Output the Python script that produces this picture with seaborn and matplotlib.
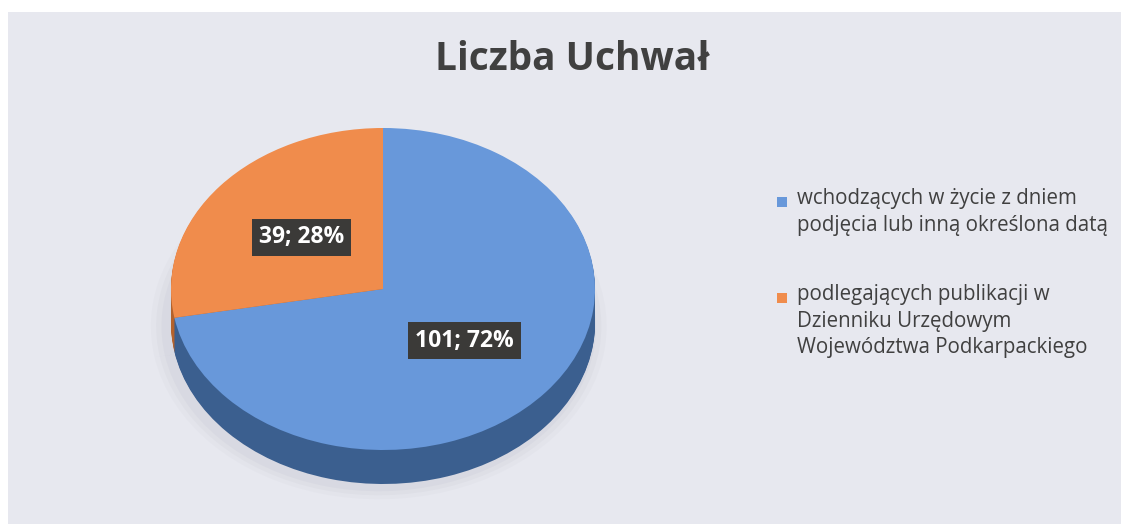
import numpy as np
import seaborn as sns
import matplotlib.pyplot as plt
from matplotlib.patches import Rectangle

# data
labels = ["wchodzących w życie z dniem\npodjęcia lub inną określona datą",
          "podlegających publikacji w\nDzienniku Urzędowym\nWojewództwa Podkarpackiego"]
values = [101, 39]
title = "Liczba Uchwał"

top_colors = ["#6898da", "#f08c4c"]
side_colors = ["#3b5f8f", "#b4622c"]

sns.set_theme(style="white")
plt.rcParams["font.family"] = ["Open Sans", "DejaVu Sans"]

W, H = 1121, 524
fig = plt.figure(figsize=(W / 100, H / 100), dpi=100, facecolor="white")

# scanned page background
fig.patches.append(Rectangle((8 / W, 0), 1, 1 - 12 / H, transform=fig.transFigure,
                             facecolor="#e7e8ef", edgecolor="none", zorder=-5))

# pie geometry in pixels: top face centre, radii, depth
cx, cy, rx, ry, depth = 383, 289, 212, 161, 34
d = depth / ry
ax = fig.add_axes([(cx - rx) / W, (H - (cy + ry + depth)) / H, 2 * rx / W, (2 * ry + depth) / H])
ax.set_facecolor("none")

# soft shadow
for k, a in enumerate([0.06, 0.05, 0.04]):
    s = 1.0 + 0.025 * (k + 1)
    ax.pie(values, colors=["#8a8a9a"] * 2, startangle=90, counterclock=False,
           radius=s, center=(-0.02, -d - 0.02), wedgeprops=dict(linewidth=0, alpha=a))

# side of the disc
n = 34
for k in range(n, 0, -1):
    ax.pie(values, colors=side_colors, startangle=90, counterclock=False,
           center=(0, -d * k / n), wedgeprops=dict(linewidth=0))

total = sum(values)
wedges, _, autotexts = ax.pie(
    values, colors=top_colors, startangle=90, counterclock=False,
    wedgeprops=dict(linewidth=0), pctdistance=0.5,
    autopct=lambda p: f"{round(p * total / 100)}; {p:.0f}%",
    textprops=dict(color="white", fontsize=16.5, fontweight="bold"))
for t in autotexts:
    t.set_bbox(dict(boxstyle="square,pad=0.3", facecolor="#3b3a38", edgecolor="none"))

ax.set_aspect("auto")
ax.set_xlim(-1, 1)
ax.set_ylim(-1 - d, 1)
ax.axis("off")

fig.text(572 / W, 1 - 59 / H, title, ha="center", va="center",
         fontsize=28, fontweight="bold", color="#404040")

# legend, markers aligned with first line of each entry
leg_y = [202, 298]
for lab, col, y in zip(labels, top_colors, leg_y):
    fig.patches.append(Rectangle((777 / W, 1 - (y + 5) / H), 10 / W, 10 / H,
                                 transform=fig.transFigure, facecolor=col, edgecolor="none"))
    fig.text(797 / W, 1 - (y - 14) / H, lab, ha="left", va="top",
             fontsize=14.8, color="#404040", linespacing=1.35)

fig.savefig("out.png", dpi=100, facecolor=fig.get_facecolor())
